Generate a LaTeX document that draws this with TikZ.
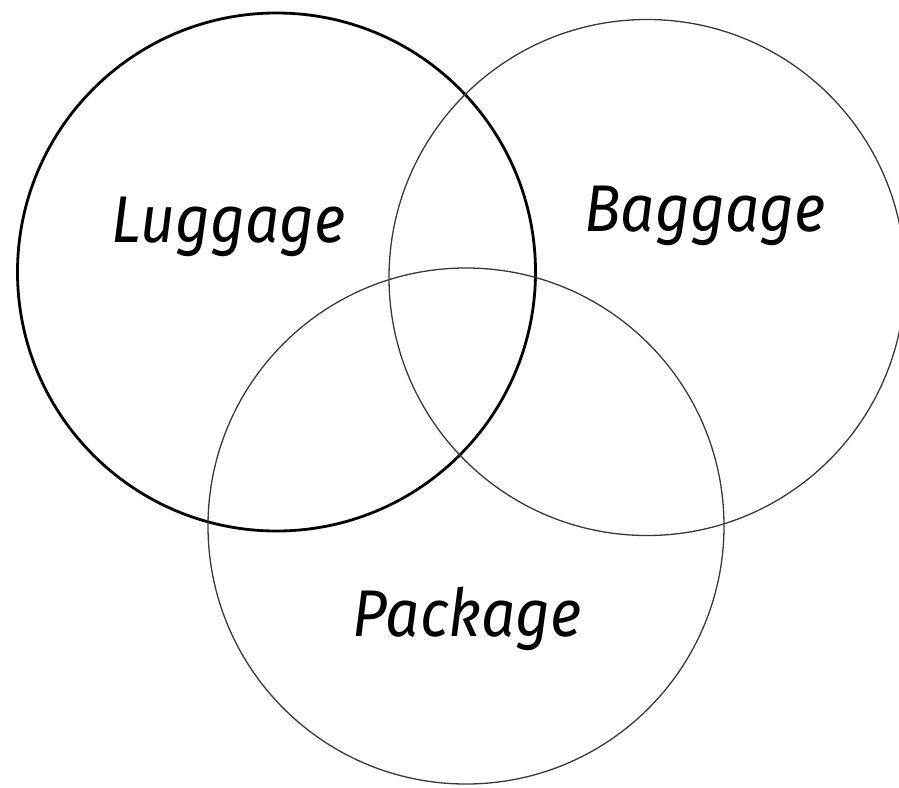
\documentclass[tikz,border=0pt]{standalone}
\usepackage{fontspec}
\setmainfont{Fira Sans}
\newfontfamily\labelfont[FakeStretch=0.915]{Fira Sans}
\begin{document}
\begin{tikzpicture}[x=1pt,y=-1pt,
  ring/.style={circle,draw=black!78,line width=1.3pt,inner sep=0pt,minimum size=516pt},
  thickring/.style={ring,draw=black,line width=2.8pt,minimum size=518pt},
  label/.style={font=\labelfont\fontsize{66}{70}\selectfont\itshape,inner sep=0pt,anchor=base}]
\useasboundingbox (0,0) rectangle (899,787);
\begin{scope}
\clip (0,0) rectangle (899,787);
\node[thickring] (lug) at (276.5,272) {};
\node[ring] (bag) at (647,277.5) {};
\node[ring] (pac) at (466,526) {};
\end{scope}
\node[label] (tlug) at (229,242) {Luggage};
\node[label] (tbag) at (705,231) {Baggage};
\node[label] (tpac) at (467.5,636) {Package};
\end{tikzpicture}
\end{document}
